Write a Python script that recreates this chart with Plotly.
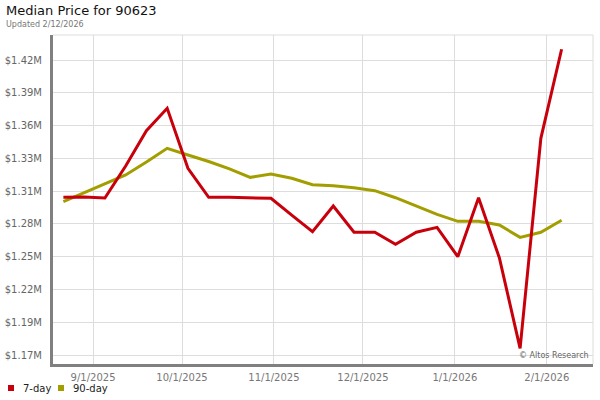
import plotly.graph_objects as go

dates = ["2025-08-22", "2025-08-29", "2025-09-05", "2025-09-12", "2025-09-19", "2025-09-26",
         "2025-10-03", "2025-10-10", "2025-10-17", "2025-10-24", "2025-10-31",
         "2025-11-07", "2025-11-14", "2025-11-21", "2025-11-28",
         "2025-12-05", "2025-12-12", "2025-12-19", "2025-12-26",
         "2026-01-02", "2026-01-09", "2026-01-16", "2026-01-23", "2026-01-30", "2026-02-06"]

seven_day = [1300300, 1300500, 1299700, 1326800, 1356700, 1375700,
             1324900, 1300300, 1300300, 1300100, 1299400,
             1285200, 1271100, 1292900, 1270600,
             1270600, 1260400, 1270600, 1274800,
             1249900, 1299900, 1249000, 1172200, 1350300, 1425800]

ninety_day = [1296500, 1303900, 1311500, 1319200, 1330200, 1341800,
              1336100, 1330600, 1324300, 1317200, 1320000,
              1316400, 1310900, 1310100, 1308400,
              1305900, 1299900, 1292900, 1285800,
              1279900, 1279900, 1276800, 1266300, 1270600, 1280800]

series_names = ["7-day", "90-day"]

y_tickvals = [1166500, 1194300, 1222100, 1249900, 1277700, 1305500, 1333300, 1361100, 1388900, 1416700]
y_ticktext = ["$1.17M", "$1.19M", "$1.22M", "$1.25M", "$1.28M", "$1.31M", "$1.33M", "$1.36M", "$1.39M", "$1.42M"]

x_tickvals = ["2025-09-01", "2025-10-01", "2025-11-01", "2025-12-01", "2026-01-01", "2026-02-01"]
x_ticktext = ["9/1/2025", "10/1/2025", "11/1/2025", "12/1/2025", "1/1/2026", "2/1/2026"]

RED = "#c8000c"
OLIVE = "#a39e00"
FONT = "DejaVu Sans"
W, H = 600, 400
ML, MR, MT, MB = 53, 7, 35, 36

fig = go.Figure()
fig.add_trace(go.Scatter(x=dates, y=ninety_day, mode="lines", name=series_names[1],
                         line=dict(color=OLIVE, width=3), showlegend=False, hoverinfo="skip"))
fig.add_trace(go.Scatter(x=dates, y=seven_day, mode="lines", name=series_names[0],
                         line=dict(color=RED, width=3), showlegend=False, hoverinfo="skip"))

# helpers converting container pixels to paper coordinates
pw, ph = W - ML - MR, H - MT - MB
def px(x):
    return (x - ML) / pw
def py(y):
    return (H - MB - y) / ph

legend_shapes = []
legend_ann = []
for name, col, sx, tx in [(series_names[0], RED, 8, 21), (series_names[1], OLIVE, 58, 71)]:
    legend_shapes.append(dict(type="rect", xref="paper", yref="paper",
                              x0=px(sx), x1=px(sx + 6), y0=py(391), y1=py(385),
                              fillcolor=col, line=dict(width=0)))
    legend_ann.append(dict(text=name, xref="paper", yref="paper", x=px(tx), y=py(388),
                           xanchor="left", yanchor="middle", showarrow=False,
                           font=dict(family=FONT, size=10, color="#222")))

fig.update_layout(
    width=W, height=H,
    margin=dict(l=ML, r=MR, t=MT, b=MB, autoexpand=False),
    paper_bgcolor="white", plot_bgcolor="white",
    font=dict(family=FONT, size=10, color="#333"),
    showlegend=False,
    xaxis=dict(
        range=["2025-08-18 12:00", "2026-02-16 14:00"],
        tickmode="array", tickvals=x_tickvals, ticktext=x_ticktext,
        showgrid=True, gridcolor="#dddddd", gridwidth=1,
        showline=True, linecolor="#808080", linewidth=3,
        ticks="", ticklabelstandoff=2, automargin=False,
        tickfont=dict(family=FONT, size=10, color="#777"),
        zeroline=False, fixedrange=True,
    ),
    yaxis=dict(
        range=[1158900, 1437900],
        tickmode="array", tickvals=y_tickvals, ticktext=y_ticktext,
        showgrid=True, gridcolor="#dddddd", gridwidth=1,
        showline=True, linecolor="#808080", linewidth=3,
        ticks="", ticklabelstandoff=6, automargin=False,
        tickfont=dict(family=FONT, size=10, color="#666"),
        zeroline=False, fixedrange=True,
    ),
    shapes=[
        dict(type="line", xref="paper", yref="paper", x0=0, x1=1, y0=1, y1=1,
             line=dict(color="#dddddd", width=1)),
        dict(type="line", xref="paper", yref="paper", x0=1, x1=1, y0=0, y1=1,
             line=dict(color="#dddddd", width=1)),
    ] + legend_shapes,
    annotations=[
        dict(text="Median Price for 90623", xref="paper", yref="paper", x=px(4), y=py(20),
             xanchor="left", yanchor="bottom", showarrow=False,
             font=dict(family=FONT, size=13, color="#111")),
        dict(text="Updated 2/12/2026", xref="paper", yref="paper", x=px(4), y=py(31),
             xanchor="left", yanchor="bottom", showarrow=False,
             font=dict(family=FONT, size=8, color="#777")),
        dict(text="© Altos Research", xref="paper", yref="paper", x=px(591), y=py(362),
             xanchor="right", yanchor="bottom", showarrow=False,
             font=dict(family=FONT, size=8, color="#666")),
    ] + legend_ann,
)

fig.write_html("out.html", config={"displayModeBar": False},
               post_script="document.body.style.margin='0';")
